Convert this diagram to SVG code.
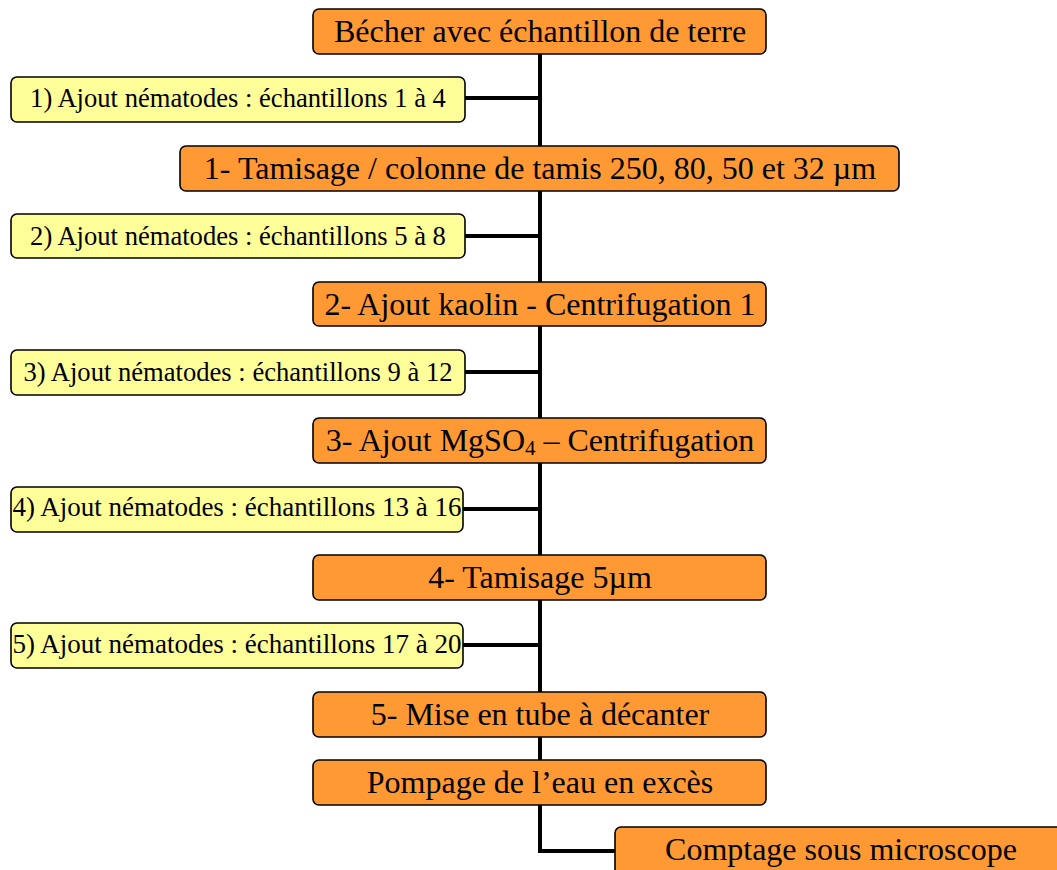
<svg xmlns="http://www.w3.org/2000/svg" width="1057" height="870" viewBox="0 0 1057 870">
<style>
.o{fill:#FF9933;stroke:#000;stroke-width:1.6}
.y{fill:#FFFF99;stroke:#000;stroke-width:1.6}
.t{font-family:"Liberation Serif","Times New Roman",serif;fill:#000;text-anchor:middle}
.big{font-size:32px}
.sm{font-size:26.6px}
.sm2{font-size:27px}
.c{stroke:#000;stroke-width:4;fill:none}
</style>
<rect width="1057" height="870" fill="#fff"/>
<g id="connectors">
<path class="c" d="M540 54 V851 H616"/>
<path class="c" d="M465 98 H540"/>
<path class="c" d="M465 236 H540"/>
<path class="c" d="M465 372 H540"/>
<path class="c" d="M463 509 H540"/>
<path class="c" d="M463 645 H540"/>
</g>
<g id="n0"><rect class="o" x="313" y="9" width="453" height="45" rx="6"/><text class="t big" x="540" y="42">Bécher avec échantillon de terre</text></g>
<g id="y1"><rect class="y" x="11" y="77" width="454" height="45" rx="6"/><text class="t sm" x="238" y="107">1) Ajout nématodes : échantillons 1 à 4</text></g>
<g id="n1"><rect class="o" x="180" y="146" width="719" height="45" rx="6"/><text class="t big" x="540" y="179">1- Tamisage / colonne de tamis 250, 80, 50 et 32 µm</text></g>
<g id="y2"><rect class="y" x="11" y="214" width="454" height="44" rx="6"/><text class="t sm" x="238" y="245">2) Ajout nématodes : échantillons 5 à 8</text></g>
<g id="n2"><rect class="o" x="313" y="282" width="453" height="44" rx="6"/><text class="t big" x="540" y="315">2- Ajout kaolin - Centrifugation 1</text></g>
<g id="y3"><rect class="y" x="11" y="350" width="454" height="45" rx="6"/><text class="t sm" x="238" y="381">3) Ajout nématodes : échantillons 9 à 12</text></g>
<g id="n3"><rect class="o" x="313" y="418" width="453" height="45" rx="6"/><text class="t big" x="540" y="451">3- Ajout MgSO<tspan font-size="21" dy="4">4</tspan><tspan dy="-4"> – Centrifugation</tspan></text></g>
<g id="y4"><rect class="y" x="11" y="487" width="452" height="45" rx="6"/><text class="t sm2" x="237" y="516">4) Ajout nématodes : échantillons 13 à 16</text></g>
<g id="n4"><rect class="o" x="313" y="555" width="453" height="45" rx="6"/><text class="t big" x="540" y="588">4- Tamisage 5µm</text></g>
<g id="y5"><rect class="y" x="11" y="623" width="452" height="45" rx="6"/><text class="t sm2" x="237" y="653">5) Ajout nématodes : échantillons 17 à 20</text></g>
<g id="n5"><rect class="o" x="313" y="692" width="453" height="45" rx="6"/><text class="t big" x="540" y="725">5- Mise en tube à décanter</text></g>
<g id="n6"><rect class="o" x="313" y="760" width="453" height="45" rx="6"/><text class="t big" x="540" y="793">Pompage de l’eau en excès</text></g>
<g id="n7"><rect class="o" x="615" y="827" width="460" height="50" rx="6"/><text class="t big" x="841" y="860">Comptage sous microscope</text></g>
</svg>
